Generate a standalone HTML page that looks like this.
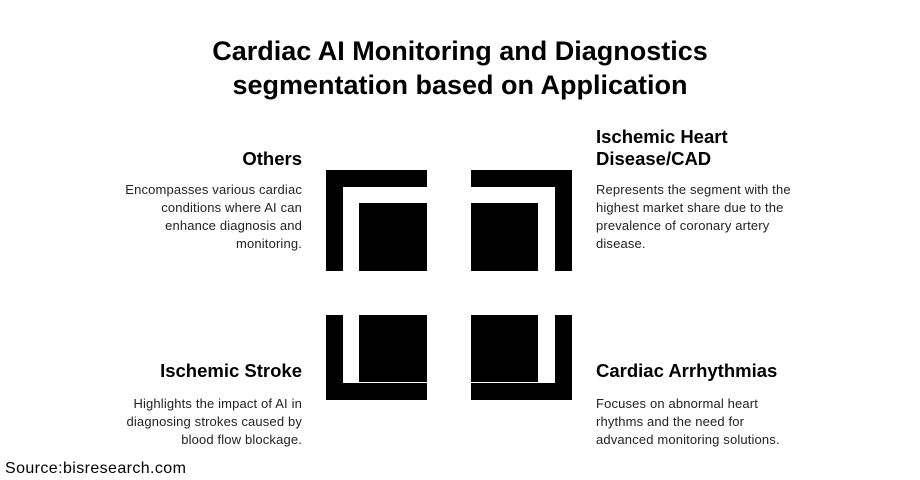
<!DOCTYPE html>
<html><head><style>
body{margin:0;width:920px;height:480px;background:#fff;position:relative;font-family:"Liberation Sans",sans-serif;overflow:hidden}
.b{position:absolute;background:#000}
.t{position:absolute;color:#000;white-space:nowrap}
h1{position:absolute;left:0;width:920px;top:34px;margin:0;text-align:center;font-size:27px;line-height:34px;font-weight:bold}
.h{font-weight:bold;font-size:18.5px;line-height:22px}
.p{font-size:13px;line-height:18px;color:#222;letter-spacing:0.15px}
.r{text-align:right}
</style></head><body>
<h1>Cardiac AI Monitoring and Diagnostics<br>segmentation based on Application</h1>
<div class="b" style="left:326px;top:170px;width:101px;height:17px"></div>
<div class="b" style="left:326px;top:170px;width:17px;height:101px"></div>
<div class="b" style="left:359px;top:203px;width:68px;height:68px"></div>
<div class="b" style="left:471px;top:170px;width:101px;height:17px"></div>
<div class="b" style="left:555px;top:170px;width:17px;height:101px"></div>
<div class="b" style="left:471px;top:203px;width:67px;height:68px"></div>
<div class="b" style="left:326px;top:315px;width:17px;height:85px"></div>
<div class="b" style="left:326px;top:383px;width:101px;height:17px"></div>
<div class="b" style="left:359px;top:315px;width:68px;height:67px"></div>
<div class="b" style="left:555px;top:315px;width:17px;height:85px"></div>
<div class="b" style="left:471px;top:383px;width:101px;height:17px"></div>
<div class="b" style="left:471px;top:315px;width:67px;height:67px"></div>

<div class="t h r" style="right:618px;top:148px">Others</div>
<div class="t p r" style="right:618px;top:181px">Encompasses various cardiac<br>conditions where AI can<br>enhance diagnosis and<br>monitoring.</div>

<div class="t h" style="left:596px;top:126px">Ischemic Heart<br>Disease/CAD</div>
<div class="t p" style="left:596px;top:181px">Represents the segment with the<br>highest market share due to the<br>prevalence of coronary artery<br>disease.</div>

<div class="t h r" style="right:618px;top:360px">Ischemic Stroke</div>
<div class="t p r" style="right:618px;top:395px">Highlights the impact of AI in<br>diagnosing strokes caused by<br>blood flow blockage.</div>

<div class="t h" style="left:596px;top:360px">Cardiac Arrhythmias</div>
<div class="t p" style="left:596px;top:395px">Focuses on abnormal heart<br>rhythms and the need for<br>advanced monitoring solutions.</div>

<div class="t" style="left:5px;top:460px;font-size:16px;letter-spacing:0.4px">Source:bisresearch.com</div>
</body></html>
